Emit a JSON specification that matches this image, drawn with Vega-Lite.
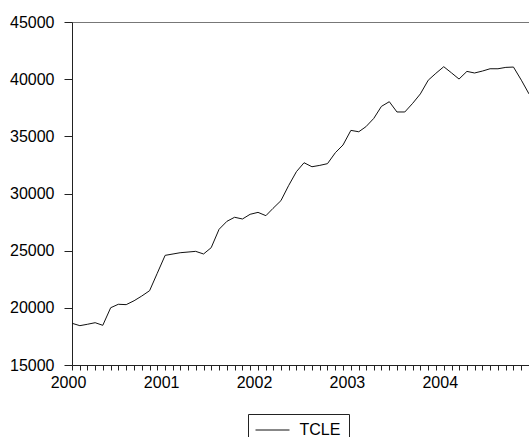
{
  "$schema": "https://vega.github.io/schema/vega-lite/v6.json",
  "autosize": {"type": "none"},
  "padding": {"left": 72, "top": 22, "right": 0, "bottom": 72},
  "width": 457,
  "height": 343,
  "background": "white",
  "config": {
    "view": {"stroke": "#777", "strokeWidth": 1},
    "axis": {
      "grid": false,
      "labelFont": "Liberation Sans",
      "labelFontSize": 16,
      "labelColor": "#000",
      "domainColor": "#222",
      "tickColor": "#222"
    },
    "legend": {
      "labelFont": "Liberation Sans",
      "labelFontSize": 16,
      "labelColor": "#000"
    }
  },
  "data": {
    "values": [
      {"date": "2000-01-01T00:00:00", "value": 18650, "series": "TCLE"},
      {"date": "2000-02-01T00:00:00", "value": 18440, "series": "TCLE"},
      {"date": "2000-03-01T00:00:00", "value": 18560, "series": "TCLE"},
      {"date": "2000-04-01T00:00:00", "value": 18700, "series": "TCLE"},
      {"date": "2000-05-01T00:00:00", "value": 18470, "series": "TCLE"},
      {"date": "2000-06-01T00:00:00", "value": 20010, "series": "TCLE"},
      {"date": "2000-07-01T00:00:00", "value": 20310, "series": "TCLE"},
      {"date": "2000-08-01T00:00:00", "value": 20280, "series": "TCLE"},
      {"date": "2000-09-01T00:00:00", "value": 20620, "series": "TCLE"},
      {"date": "2000-10-01T00:00:00", "value": 21030, "series": "TCLE"},
      {"date": "2000-11-01T00:00:00", "value": 21500, "series": "TCLE"},
      {"date": "2000-12-01T00:00:00", "value": 23020, "series": "TCLE"},
      {"date": "2001-01-01T00:00:00", "value": 24590, "series": "TCLE"},
      {"date": "2001-02-01T00:00:00", "value": 24710, "series": "TCLE"},
      {"date": "2001-03-01T00:00:00", "value": 24820, "series": "TCLE"},
      {"date": "2001-04-01T00:00:00", "value": 24880, "series": "TCLE"},
      {"date": "2001-05-01T00:00:00", "value": 24940, "series": "TCLE"},
      {"date": "2001-06-01T00:00:00", "value": 24710, "series": "TCLE"},
      {"date": "2001-07-01T00:00:00", "value": 25260, "series": "TCLE"},
      {"date": "2001-08-01T00:00:00", "value": 26870, "series": "TCLE"},
      {"date": "2001-09-01T00:00:00", "value": 27570, "series": "TCLE"},
      {"date": "2001-10-01T00:00:00", "value": 27920, "series": "TCLE"},
      {"date": "2001-11-01T00:00:00", "value": 27770, "series": "TCLE"},
      {"date": "2001-12-01T00:00:00", "value": 28180, "series": "TCLE"},
      {"date": "2002-01-01T00:00:00", "value": 28350, "series": "TCLE"},
      {"date": "2002-02-01T00:00:00", "value": 28060, "series": "TCLE"},
      {"date": "2002-03-01T00:00:00", "value": 28700, "series": "TCLE"},
      {"date": "2002-04-01T00:00:00", "value": 29370, "series": "TCLE"},
      {"date": "2002-05-01T00:00:00", "value": 30680, "series": "TCLE"},
      {"date": "2002-06-01T00:00:00", "value": 31910, "series": "TCLE"},
      {"date": "2002-07-01T00:00:00", "value": 32690, "series": "TCLE"},
      {"date": "2002-08-01T00:00:00", "value": 32340, "series": "TCLE"},
      {"date": "2002-09-01T00:00:00", "value": 32460, "series": "TCLE"},
      {"date": "2002-10-01T00:00:00", "value": 32610, "series": "TCLE"},
      {"date": "2002-11-01T00:00:00", "value": 33570, "series": "TCLE"},
      {"date": "2002-12-01T00:00:00", "value": 34240, "series": "TCLE"},
      {"date": "2003-01-01T00:00:00", "value": 35520, "series": "TCLE"},
      {"date": "2003-02-01T00:00:00", "value": 35400, "series": "TCLE"},
      {"date": "2003-03-01T00:00:00", "value": 35840, "series": "TCLE"},
      {"date": "2003-04-01T00:00:00", "value": 36570, "series": "TCLE"},
      {"date": "2003-05-01T00:00:00", "value": 37620, "series": "TCLE"},
      {"date": "2003-06-01T00:00:00", "value": 38030, "series": "TCLE"},
      {"date": "2003-07-01T00:00:00", "value": 37130, "series": "TCLE"},
      {"date": "2003-08-01T00:00:00", "value": 37130, "series": "TCLE"},
      {"date": "2003-09-01T00:00:00", "value": 37890, "series": "TCLE"},
      {"date": "2003-10-01T00:00:00", "value": 38710, "series": "TCLE"},
      {"date": "2003-11-01T00:00:00", "value": 39910, "series": "TCLE"},
      {"date": "2003-12-01T00:00:00", "value": 40510, "series": "TCLE"},
      {"date": "2004-01-01T00:00:00", "value": 41090, "series": "TCLE"},
      {"date": "2004-02-01T00:00:00", "value": 40540, "series": "TCLE"},
      {"date": "2004-03-01T00:00:00", "value": 40010, "series": "TCLE"},
      {"date": "2004-04-01T00:00:00", "value": 40680, "series": "TCLE"},
      {"date": "2004-05-01T00:00:00", "value": 40540, "series": "TCLE"},
      {"date": "2004-06-01T00:00:00", "value": 40710, "series": "TCLE"},
      {"date": "2004-07-01T00:00:00", "value": 40910, "series": "TCLE"},
      {"date": "2004-08-01T00:00:00", "value": 40910, "series": "TCLE"},
      {"date": "2004-09-01T00:00:00", "value": 41030, "series": "TCLE"},
      {"date": "2004-10-01T00:00:00", "value": 41060, "series": "TCLE"},
      {"date": "2004-11-01T00:00:00", "value": 39910, "series": "TCLE"},
      {"date": "2004-12-01T00:00:00", "value": 38710, "series": "TCLE"}
    ]
  },
  "mark": {"type": "line", "strokeWidth": 1, "clip": false},
  "encoding": {
    "x": {
      "field": "date",
      "type": "temporal",
      "title": null,
      "scale": {
        "domain": [{"year": 2000, "month": 1, "date": 1}, {"year": 2004, "month": 12, "date": 1}],
        "nice": false
      },
      "axis": {
        "tickCount": {"interval": "month", "step": 1},
        "labelExpr": "month(datum.value) === 0 ? timeFormat(datum.value, '%Y') : ''",
        "labelOverlap": false,
        "labelFlush": false,
        "labelBound": false,
        "labelPadding": 4,
        "labelOffset": -4,
        "tickSize": 5,
        "tickWidth": 1,
        "tickDash": {"condition": {"test": "month(datum.value) === 0", "value": [9, 0]}, "value": [5, 0]}
      }
    },
    "y": {
      "field": "value",
      "type": "quantitative",
      "title": null,
      "scale": {"domain": [15000, 45000], "nice": false, "zero": false},
      "axis": {
        "values": [15000, 20000, 25000, 30000, 35000, 40000, 45000],
        "format": "d",
        "tickSize": 8,
        "labelPadding": 10
      }
    },
    "color": {
      "field": "series",
      "type": "nominal",
      "scale": {"range": ["#111"]},
      "legend": {
        "title": null,
        "orient": "none",
        "legendX": 176,
        "legendY": 392,
        "strokeColor": "#222",
        "padding": 8,
        "symbolType": "M-2,0H6",
        "symbolSize": 72.25,
        "symbolStrokeWidth": 1,
        "labelOffset": 27.5
      }
    }
  }
}
